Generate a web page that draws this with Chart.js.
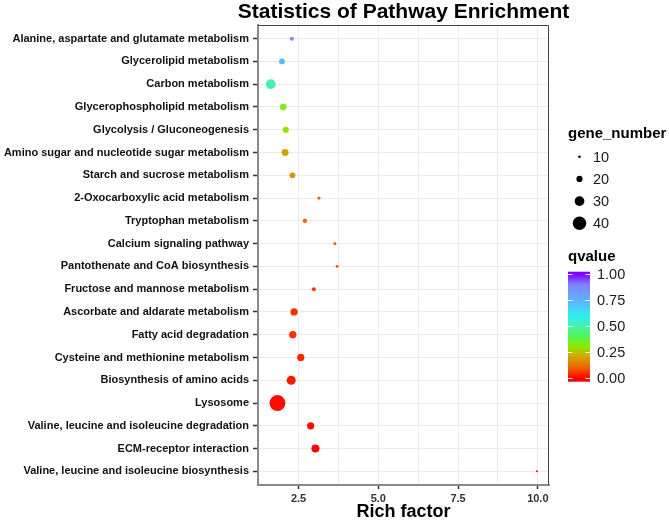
<!DOCTYPE html>
<html>
<head>
<meta charset="utf-8">
<script src="https://cdn.jsdelivr.net/npm/chart.js@4/dist/chart.umd.min.js"></script>
<style>
  html, body { margin: 0; padding: 0; background: #fff; }
  #wrap { width: 669px; height: 521px; position: relative; }
</style>
</head>
<body>
<div id="wrap"><canvas id="chart" width="669" height="521"></canvas></div>
<script>
const pathways = [
    'Alanine, aspartate and glutamate metabolism',
    'Glycerolipid metabolism',
    'Carbon metabolism',
    'Glycerophospholipid metabolism',
    'Glycolysis / Gluconeogenesis',
    'Amino sugar and nucleotide sugar metabolism',
    'Starch and sucrose metabolism',
    '2-Oxocarboxylic acid metabolism',
    'Tryptophan metabolism',
    'Calcium signaling pathway',
    'Pantothenate and CoA biosynthesis',
    'Fructose and mannose metabolism',
    'Ascorbate and aldarate metabolism',
    'Fatty acid degradation',
    'Cysteine and methionine metabolism',
    'Biosynthesis of amino acids',
    'Lysosome',
    'Valine, leucine and isoleucine degradation',
    'ECM-receptor interaction',
    'Valine, leucine and isoleucine biosynthesis'
];
const richFactor = [2.29, 1.98, 1.63, 2.02, 2.10, 2.08, 2.31, 3.14, 2.70, 3.64, 3.71, 2.98, 2.36, 2.32, 2.57, 2.27, 1.84, 2.88, 3.03, 9.97];
const geneNumber = [14, 19, 30, 21, 20, 22, 19, 12, 15, 11, 11, 14, 23, 23, 23, 28, 47, 23, 25, 8];
const qvalue = [0.88, 0.72, 0.52, 0.33, 0.29, 0.20, 0.18, 0.12, 0.11, 0.08, 0.09, 0.06, 0.05, 0.05, 0.04, 0.03, 0.01, 0.008, 0.004, 0.002];

const xTicks = [1.25, 2.5, 3.75, 5, 6.25, 7.5, 8.75, 10];
const sizeBreaks = [10, 20, 30, 40];
const qBreaks = [0, 0.25, 0.5, 0.75, 1];

const FONT = "'Liberation Sans', Arial, Helvetica, sans-serif";

// colour ramp for qvalue (by eye from the reference colourbar)
const ramp = [
    [0.00, [255, 0, 0]],
    [0.10, [240, 96, 0]],
    [0.20, [214, 160, 0]],
    [0.30, [144, 232, 0]],
    [0.40, [80, 246, 80]],
    [0.50, [70, 240, 176]],
    [0.60, [48, 238, 240]],
    [0.75, [96, 176, 255]],
    [0.90, [128, 128, 255]],
    [1.00, [128, 0, 255]]
];

function qColor(q) {
    for (let i = 1; i < ramp.length; i++) {
        if (q <= ramp[i][0]) {
            const [a, ca] = ramp[i - 1], [b, cb] = ramp[i];
            const t = (q - a) / (b - a);
            const c = ca.map((v, k) => Math.round(v + (cb[k] - v) * t));
            return `rgb(${c[0]},${c[1]},${c[2]})`;
        }
    }
    return 'rgb(128,0,255)';
}

function radius(n) {
    return Math.max(1, 0.18 * n - 0.5);
}

const points = pathways.map((p, i) => ({ x: richFactor[i], y: i, r: radius(geneNumber[i]) }));

const frame = {
    id: 'frame',
    afterDraw(chart) {
        const { ctx, chartArea: a } = chart;
        ctx.save();
        // top and right border
        ctx.strokeStyle = '#444';
        ctx.lineWidth = 1;
        ctx.beginPath();
        ctx.moveTo(a.left, a.top + 0.5);
        ctx.lineTo(a.right - 0.5, a.top + 0.5);
        ctx.lineTo(a.right - 0.5, a.bottom);
        ctx.stroke();

        // title
        ctx.fillStyle = '#000';
        ctx.font = 'bold 21px ' + FONT;
        ctx.textAlign = 'center';
        ctx.textBaseline = 'alphabetic';
        ctx.fillText('Statistics of Pathway Enrichment', (a.left + a.right) / 2, 18);

        // size legend
        ctx.textAlign = 'left';
        ctx.textBaseline = 'middle';
        ctx.font = 'bold 15px ' + FONT;
        ctx.fillText('gene_number', 568, 134);
        ctx.font = '14.5px ' + FONT;
        sizeBreaks.forEach((s, i) => {
            const y = 156.7 + i * 22.2;
            ctx.fillStyle = '#000';
            ctx.beginPath();
            ctx.arc(579.5, y, radius(s), 0, Math.PI * 2);
            ctx.fill();
            ctx.fillStyle = '#1a1a1a';
            ctx.fillText(String(s), 593, y + 1);
        });

        // colourbar legend
        ctx.fillStyle = '#000';
        ctx.font = 'bold 15px ' + FONT;
        ctx.fillText('qvalue', 568, 257);
        const yFor = v => 378.3 - v * 104.3;
        const grad = ctx.createLinearGradient(0, yFor(0), 0, yFor(1));
        ramp.forEach(([v, c]) => grad.addColorStop(v, `rgb(${c[0]},${c[1]},${c[2]})`));
        ctx.fillStyle = grad;
        ctx.fillRect(568, 271.7, 22, 110);
        ctx.strokeStyle = 'rgba(255,255,255,0.9)';
        ctx.lineWidth = 1;
        ctx.font = '14.5px ' + FONT;
        qBreaks.forEach(v => {
            const y = Math.round(yFor(v)) + 0.5;
            ctx.beginPath();
            ctx.moveTo(568, y); ctx.lineTo(572.5, y);
            ctx.moveTo(585.5, y); ctx.lineTo(590, y);
            ctx.stroke();
            ctx.fillStyle = '#1a1a1a';
            ctx.fillText(v.toFixed(2), 597, yFor(v) + 1);
        });
        ctx.restore();
    }
};

Chart.defaults.font.family = FONT;

const isMajor = v => Math.abs(v / 2.5 - Math.round(v / 2.5)) < 1e-9;

new Chart(document.getElementById('chart'), {
    type: 'bubble',
    data: {
        datasets: [{
            data: points,
            backgroundColor: qvalue.map(qColor),
            borderWidth: 0,
            hoverBorderWidth: 0
        }]
    },
    options: {
        responsive: false,
        animation: false,
        layout: { padding: { top: 25, right: 120, bottom: 0, left: 0 } },
        plugins: { legend: { display: false }, tooltip: { enabled: false } },
        scales: {
            x: {
                type: 'linear',
                min: 1.23,
                max: 10.35,
                afterBuildTicks: s => { s.ticks = xTicks.map(v => ({ value: v })); },
                afterFit: s => { s.height = 36; },
                grid: {
                    color: '#ebebeb',
                    lineWidth: 1,
                    tickColor: c => (c.tick && isMajor(c.tick.value) ? '#333' : 'rgba(0,0,0,0)'),
                    tickLength: 4,
                    tickWidth: 1.5
                },
                border: { display: true, color: '#8a8a8a', width: 2 },
                ticks: {
                    autoSkip: false,
                    maxRotation: 0,
                    padding: 3,
                    color: '#333',
                    font: { size: 11, weight: 'bold' },
                    callback: v => (isMajor(v) ? v.toFixed(1) : '')
                },
                title: {
                    display: true,
                    text: 'Rich factor',
                    color: '#000',
                    font: { size: 18, weight: 'bold', lineHeight: 1 },
                    padding: { top: 0, bottom: 0 }
                }
            },
            y: {
                type: 'linear',
                reverse: true,
                min: -0.6,
                max: pathways.length - 0.4,
                afterBuildTicks: s => { s.ticks = pathways.map((p, i) => ({ value: i })); },
                afterFit: s => { s.width = 258; },
                grid: { color: '#ebebeb', lineWidth: 1, tickColor: '#333', tickLength: 5, tickWidth: 1.5 },
                border: { display: true, color: '#8a8a8a', width: 2 },
                ticks: {
                    autoSkip: false,
                    padding: 4,
                    color: '#111',
                    font: { size: 11, weight: 'bold' },
                    callback: v => pathways[v]
                }
            }
        }
    },
    plugins: [frame]
});
</script>
</body>
</html>
